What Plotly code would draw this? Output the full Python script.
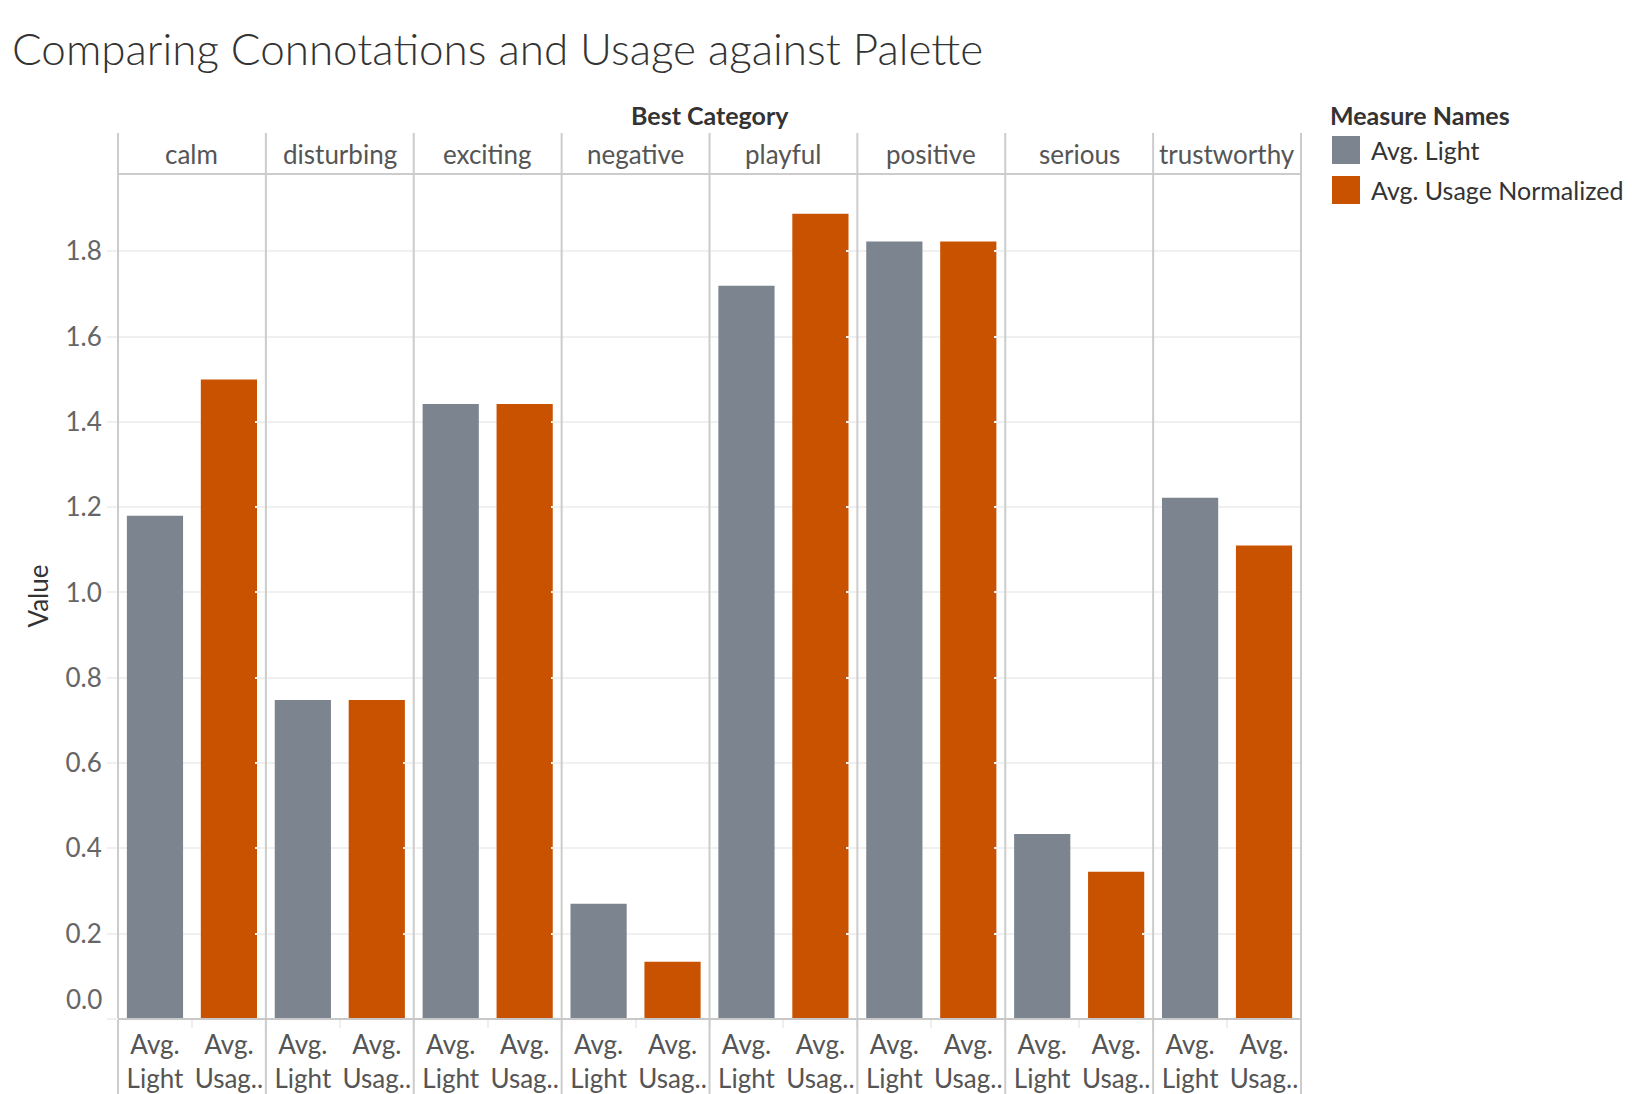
import plotly.graph_objects as go
from plotly.subplots import make_subplots

# values
categories = ["calm", "disturbing", "exciting", "negative", "playful", "positive", "serious", "trustworthy"]
measures = ["Avg. Light", "Avg. Usage Normalized"]
measure_ticks = ["Avg.<br>Light", "Avg.<br>Usag.."]
avg_light = [1.180, 0.748, 1.442, 0.270, 1.719, 1.823, 0.434, 1.222]
avg_usage = [1.499, 0.748, 1.442, 0.134, 1.888, 1.823, 0.345, 1.110]
y_ticks = [0.0, 0.2, 0.4, 0.6, 0.8, 1.0, 1.2, 1.4, 1.6, 1.8]

colors = ["#7b848f", "#c85200"]
font = "Lato"
fs = 26

W, H = 1632, 1094
L, R, T, B = 110, 1293, 166, 1011


def px_x(px):
    return (px - L) / (R - L)


def px_y(py):
    return (B - py) / (B - T)


fig = make_subplots(rows=1, cols=len(categories), shared_yaxes=True, horizontal_spacing=0)

for i, cat in enumerate(categories):
    for j, vals in enumerate([avg_light, avg_usage]):
        fig.add_trace(go.Bar(x=[measures[j]], y=[vals[i]], name=measures[j],
                             marker=dict(color=colors[j], line=dict(width=0)),
                             showlegend=False), row=1, col=i + 1)
    fig.update_xaxes(row=1, col=i + 1, type="category", categoryorder="array", categoryarray=measures,
                     tickvals=measures, ticktext=measure_ticks, showgrid=False, zeroline=False,
                     ticks="outside", tickson="boundaries", ticklen=8, tickcolor="#eeeeee", tickwidth=2,
                     tickangle=0, ticklabelstandoff=8, automargin=False,
                     tickfont=dict(family=font, size=fs, color="#555555"), showline=False)

fig.update_yaxes(range=[0, 1.981], tickvals=y_ticks, ticktext=[""] + ["%.1f" % v for v in y_ticks[1:]],
                 showgrid=True, gridcolor="#f0f0f0", gridwidth=2, zeroline=False, showline=False,
                 ticks="outside", ticklen=10, tickcolor="#f0f0f0", tickwidth=2, automargin=False,
                 tickfont=dict(family=font, size=fs, color="#666666"))

shapes = []
# column dividers, running through header and bottom label row
for k in range(len(categories) + 1):
    x = px_x(L + k * (R - L) / len(categories))
    shapes.append(dict(type="line", xref="paper", yref="paper", x0=x, x1=x, y0=px_y(125), y1=px_y(1094),
                       line=dict(color="#cccccc", width=2)))
# header bottom line and zero axis line
shapes.append(dict(type="line", xref="paper", yref="paper", x0=0, x1=1, y0=1, y1=1,
                   line=dict(color="#cccccc", width=2)))
shapes.append(dict(type="line", xref="paper", yref="paper", x0=px_x(100), x1=0, y0=0, y1=0,
                   line=dict(color="#f0f0f0", width=2)))
shapes.append(dict(type="line", xref="paper", yref="paper", x0=0, x1=1, y0=0, y1=0,
                   line=dict(color="#c8c8c8", width=2)))
# legend swatches
for j in range(len(measures)):
    shapes.append(dict(type="rect", xref="paper", yref="paper", x0=px_x(1324), x1=px_x(1352),
                       y0=px_y(156 + 40 * j), y1=px_y(128 + 40 * j), fillcolor=colors[j], line=dict(width=0)))

annotations = []
for k, cat in enumerate(categories):
    annotations.append(dict(text=cat, xref="paper", yref="paper", x=px_x(L + (k + 0.5) * (R - L) / len(categories)),
                            y=px_y(146), showarrow=False, xanchor="center", yanchor="middle",
                            font=dict(family=font, size=fs, color="#555555")))
annotations.append(dict(text="<b>Best Category</b>", xref="paper", yref="paper", x=0.5, y=px_y(107),
                        showarrow=False, xanchor="center", yanchor="middle",
                        font=dict(family=font, size=fs - 1, color="#333333")))
annotations.append(dict(text="Value", xref="paper", yref="paper", x=px_x(29), y=0.5, textangle=-90,
                        showarrow=False, xanchor="center", yanchor="middle",
                        font=dict(family=font, size=fs, color="#333333")))
annotations.append(dict(text="0.0", xref="paper", yref="paper", x=px_x(96), y=0, showarrow=False,
                        xanchor="right", yanchor="bottom", yshift=2,
                        font=dict(family=font, size=fs, color="#666666")))
annotations.append(dict(text="<b>Measure Names</b>", xref="paper", yref="paper", x=px_x(1320), y=px_y(107),
                        showarrow=False, xanchor="left", yanchor="middle",
                        font=dict(family=font, size=fs - 1, color="#333333")))
for j, m in enumerate(measures):
    annotations.append(dict(text=m, xref="paper", yref="paper", x=px_x(1361), y=px_y(142 + 40 * j),
                            showarrow=False, xanchor="left", yanchor="middle",
                            font=dict(family=font, size=fs - 1, color="#333333")))

fig.update_layout(
    width=W, height=H,
    margin=dict(l=L, r=W - R, t=T, b=H - B),
    bargap=0.24,
    plot_bgcolor="white", paper_bgcolor="white",
    title=dict(text="Comparing Connotations and Usage against Palette", xref="container", yref="container",
               x=4 / W, y=1 - 42 / H, xanchor="left", yanchor="middle",
               font=dict(family=font, size=44, color="#333333", weight=300)),
    shapes=shapes, annotations=annotations, showlegend=False,
)

fig.write_html("out.html")
